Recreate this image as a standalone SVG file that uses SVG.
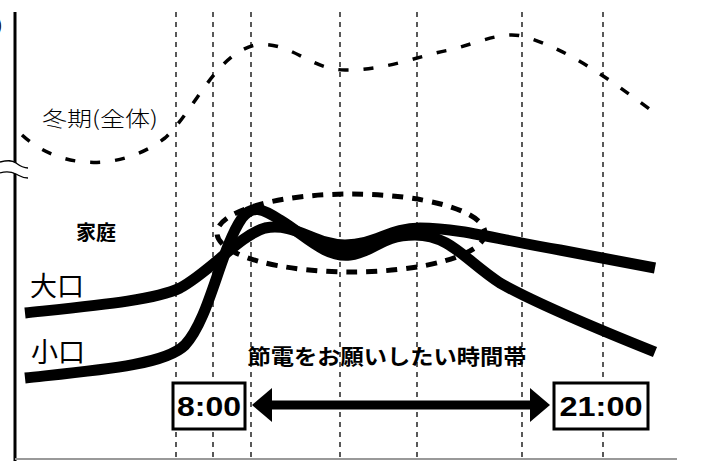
<svg xmlns="http://www.w3.org/2000/svg" width="710" height="461" viewBox="0 0 710 461">
<style>
.grid{stroke:#000;stroke-width:1.3;stroke-dasharray:5 5;fill:none}
.thick{stroke:#000;stroke-width:11;fill:none;stroke-linecap:butt}
.lbl{font-family:"Noto Sans CJK JP","Liberation Sans",sans-serif;fill:#000}
.box{fill:#fff;stroke:#000;stroke-width:3}
.time{font-family:"Liberation Sans",Arial,sans-serif;font-weight:bold;font-size:27px;text-anchor:middle;fill:#000}
</style>
<defs>
<marker id="ah" viewBox="0 0 20 34" refX="0" refY="17" markerWidth="20" markerHeight="34" markerUnits="userSpaceOnUse" orient="auto-start-reverse">
<path d="M0,0 L20,17 L0,34 Z" fill="#000"/>
</marker>
</defs>
<rect width="710" height="461" fill="#fff"/>
<g id="grid">
<line class="grid" x1="176" y1="12" x2="176" y2="461"/>
<line class="grid" x1="213" y1="12" x2="213" y2="461"/>
<line class="grid" x1="251" y1="12" x2="251" y2="461"/>
<line class="grid" x1="340" y1="12" x2="340" y2="461"/>
<line class="grid" x1="417" y1="12" x2="417" y2="461"/>
<line class="grid" x1="522" y1="12" x2="522" y2="461"/>
<line class="grid" x1="603" y1="12" x2="603" y2="461"/>
</g>
<g id="axis">
<line x1="15" y1="12" x2="15" y2="461" stroke="#000" stroke-width="3"/>
<path d="M0,162 C8,160 12,160 16,163 C20,166 24,168 28,168 L28,178 C22,178 20,176 16,174 C10,171 6,171 0,173 Z" fill="#fff"/>
<path d="M0,162 C8,160 12,160 16,163 C20,166 24,168 28,168" stroke="#000" stroke-width="1.3" fill="none"/>
<path d="M0,173 C6,171 10,171 16,174 C20,176 22,178 28,178" stroke="#000" stroke-width="1.3" fill="none"/>
<line x1="15" y1="459" x2="677" y2="459" stroke="#999" stroke-width="2"/>
<text x="-3" y="31" class="lbl" font-size="16">)</text>
</g>
<g id="winter">
<path d="M22,135 C60,170 120,172 165,138 C195,110 215,55 255,45 C290,40 310,70 345,70 C390,70 420,55 450,50 C480,42 505,30 525,37 C570,50 610,80 655,113" stroke="#000" stroke-width="3.5" stroke-dasharray="10 15" fill="none"/>
<text x="100" y="126" class="lbl" font-size="21" font-weight="300" text-anchor="middle" textLength="116" lengthAdjust="spacingAndGlyphs">冬期(全体)</text>
</g>
<g id="home-label">
<text x="96" y="240" class="lbl" font-size="20" font-weight="bold" text-anchor="middle">家庭</text>
</g>
<g id="ellipse">
<ellipse cx="351" cy="233" rx="134" ry="39" stroke="#000" stroke-width="5" stroke-dasharray="11 9" fill="none"/>
</g>
<g id="large">
<path class="thick" d="M25,313 C100,305 155,300 180,288 C210,272 240,235 265,228 C295,222 315,245 345,245 C375,245 390,228 420,228 C460,228 500,240 560,250 L655,268"/>
<text x="57" y="296" class="lbl" font-size="27" text-anchor="middle">大口</text>
</g>
<g id="small">
<path class="thick" d="M25,378 C100,370 165,365 185,345 C210,318 220,250 242,218 C252,205 262,208 280,220 C305,235 325,258 350,255 C375,252 380,235 415,235 C450,235 465,260 500,283 C530,300 600,330 655,352"/>
<text x="58" y="362" class="lbl" font-size="27" text-anchor="middle">小口</text>
</g>
<g id="caption">
<text x="387" y="364" class="lbl" font-size="21" font-weight="bold" text-anchor="middle" textLength="279" lengthAdjust="spacingAndGlyphs">節電をお願いしたい時間帯</text>
</g>
<g id="t800">
<rect class="box" x="173" y="383" width="72" height="46"/>
<text x="209" y="416" class="time" textLength="64" lengthAdjust="spacingAndGlyphs">8:00</text>
</g>
<g id="t2100">
<rect class="box" x="554" y="383" width="94" height="46"/>
<text x="601" y="416" class="time" textLength="83" lengthAdjust="spacingAndGlyphs">21:00</text>
</g>
<g id="connectors">
<line x1="272" y1="405" x2="530" y2="405" stroke="#000" stroke-width="9" marker-start="url(#ah)" marker-end="url(#ah)"/>
</g>
</svg>
